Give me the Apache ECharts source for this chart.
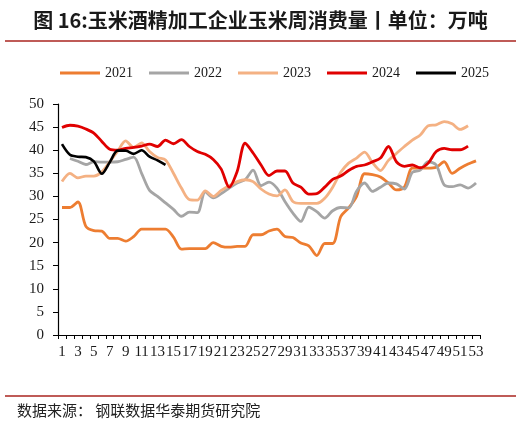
<!DOCTYPE html>
<html>
<head>
<meta charset="utf-8">
<script src="https://cdn.jsdelivr.net/npm/echarts@6/dist/echarts.min.js"></script>
<style>
html,body{margin:0;padding:0;background:#fff;}
#chart{width:521px;height:426px;}
</style>
</head>
<body>
<div id="chart"></div>
<script>
var weeks = ['1','2','3','4','5','6','7','8','9','10','11','12','13','14','15','16','17','18','19','20','21','22','23','24','25','26','27','28','29','30','31','32','33','34','35','36','37','38','39','40','41','42','43','44','45','46','47','48','49','50','51','52','53'];

var y2021 = [27.6,27.6,28.8,23.5,22.6,22.5,20.9,20.9,20.3,21.3,22.9,22.9,22.9,22.9,21.2,18.6,18.7,18.7,18.7,20.0,19.2,19.0,19.2,19.2,21.7,21.7,22.5,22.9,21.3,21.1,19.9,19.3,17.2,19.8,19.8,25.6,27.5,30.0,34.9,34.7,34.2,32.9,31.4,32.0,36.1,36.1,36.1,36.3,37.5,35.0,36.1,37.0,37.7];

var y2022 = [null,38.2,37.6,36.9,37.5,37.4,37.4,37.5,38.0,38.5,35.0,31.3,30.0,28.6,27.2,25.7,26.6,26.5,31.0,29.7,30.6,31.8,32.9,33.6,35.7,32.3,33.1,31.8,28.9,26.4,24.6,27.7,26.7,25.3,26.9,27.6,27.5,31.1,32.9,31.1,32.0,32.9,32.7,31.6,35.2,35.7,37.5,36.8,32.5,32.1,32.5,31.8,32.9];

var y2023 = [33.2,35.0,34.0,34.4,34.4,35.3,37.5,39.8,42.0,40.6,41.6,39.7,38.4,37.9,35.0,31.8,29.3,29.2,31.2,30.0,31.3,32.3,33.2,33.6,33.2,31.6,30.5,30.1,31.4,28.9,28.5,28.5,28.5,29.6,32.0,35.2,37.2,38.3,39.6,37.3,35.6,37.8,39.3,40.8,42.2,43.3,45.3,45.5,46.2,45.7,44.5,45.3];

var y2024 = [44.9,45.4,45.2,44.6,43.7,41.9,40.2,40.0,40.4,40.6,40.9,41.3,40.8,42.2,41.4,42.3,40.8,39.7,39.1,38.0,35.9,32.0,35.4,41.5,39.4,36.8,34.5,35.5,35.5,32.9,32.0,30.5,30.6,32.0,33.7,34.4,35.6,36.5,36.8,37.5,38.3,40.8,37.5,36.5,36.8,36.2,37.2,39.7,40.4,40.1,40.1,40.9];

var y2025 = [41.3,39.0,38.6,38.5,37.6,34.9,37.4,39.9,39.9,39.2,40.0,38.6,37.8,36.8];

var seriesNames = ['2021','2022','2023','2024','2025'];
var seriesColors = ['#ED7D31','#A5A5A5','#F4B183','#E00000','#000000'];
var seriesData = [y2021, y2022, y2023, y2024, y2025];

var serif = '"Liberation Serif","Times New Roman",serif';
var cjk = '"Noto Sans CJK SC","Noto Sans",sans-serif';

var chart = echarts.init(document.getElementById('chart'));

var series = seriesNames.map(function(name, i){
  return {
    name: name,
    type: 'line',
    data: seriesData[i],
    smooth: 0.3,
    symbol: 'none',
    connectNulls: false,
    z: 2 + i,
    lineStyle: {color: seriesColors[i], width: i === 4 ? 2.6 : 2.8},
    itemStyle: {color: seriesColors[i]}
  };
});

chart.setOption({
  backgroundColor: '#fff',
  animation: false,
  title: {
    text: '图 16:玉米酒精加工企业玉米周消费量丨单位：万吨',
    left: 'center',
    top: 5,
    textStyle: {fontFamily: cjk, fontSize: 20, fontWeight: 'bold', color: '#1a1a1a'}
  },
  legend: {
    data: seriesNames,
    left: 55,
    top: 61,
    icon: 'rect',
    itemWidth: 40,
    itemHeight: 3,
    itemGap: 16,
    textStyle: {fontFamily: serif, fontSize: 14, color: '#1a1a1a', padding: [0,0,0,0]}
  },
  grid: {left: 58, right: 41, top: 104, bottom: 91, containLabel: false},
  xAxis: {
    type: 'category',
    data: weeks,
    boundaryGap: true,
    axisLine: {lineStyle: {color: '#000', width: 1.2}},
    axisTick: {show: true, interval: 0, length: 4, lineStyle: {color: '#000'}},
    axisLabel: {interval: 1, fontFamily: serif, fontSize: 15, color: '#1a1a1a', margin: 10},
    splitLine: {show: false}
  },
  yAxis: {
    type: 'value',
    min: 0,
    max: 50,
    interval: 5,
    axisLine: {show: true, lineStyle: {color: '#000', width: 1.2}},
    axisTick: {show: true, length: 5, lineStyle: {color: '#000'}},
    axisLabel: {fontFamily: serif, fontSize: 15, color: '#1a1a1a', margin: 14},
    splitLine: {show: false}
  },
  graphic: [
    {type: 'line', shape: {x1: 5, y1: 41, x2: 516, y2: 41}, style: {stroke: '#bf5b57', lineWidth: 2}},
    {type: 'line', shape: {x1: 5, y1: 396, x2: 516, y2: 396}, style: {stroke: '#bf5b57', lineWidth: 2}},
    {type: 'text', left: 17, top: 403, style: {text: '数据来源： 钢联数据华泰期货研究院', font: '15px "Noto Sans CJK SC", sans-serif', fill: '#222'}}
  ],
  series: series
});
</script>
</body>
</html>
